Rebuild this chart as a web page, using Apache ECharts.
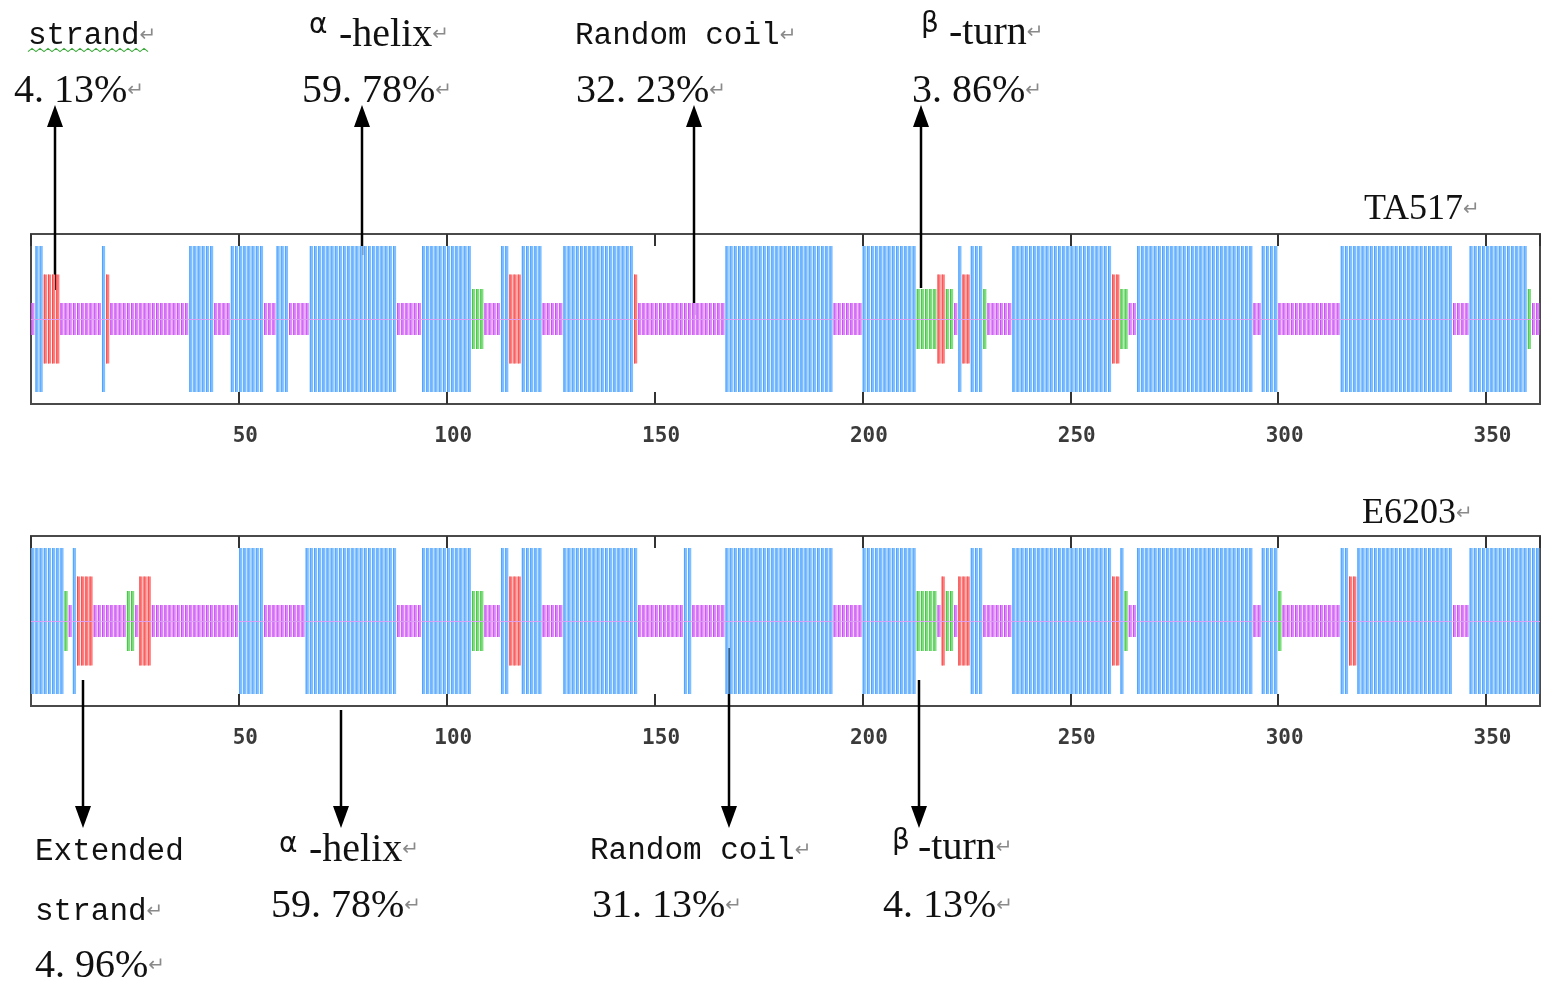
<!DOCTYPE html>
<html>
<head>
<meta charset="utf-8">
<script src="https://cdn.jsdelivr.net/npm/echarts@6/dist/echarts.min.js"></script>
<style>
  html, body { margin: 0; background: #fff; }
  #main { width: 1542px; height: 984px; }
</style>
</head>
<body>
<div id="main"></div>
<script>
// secondary structure per residue, as runs of [type, length]
// h = alpha helix, e = extended strand, t = beta turn, c = random coil
var seqLength = 363;
var ta517Runs = [
  ['c', 1], ['h', 2], ['e', 4], ['c', 10], ['h', 1], ['e', 1], ['c', 19], ['h', 6], ['c', 4], ['h', 8],
  ['c', 3], ['h', 3], ['c', 5], ['h', 21], ['c', 6], ['h', 12], ['t', 3], ['c', 4], ['h', 2], ['e', 3],
  ['h', 5], ['c', 5], ['h', 17], ['e', 1], ['c', 21], ['h', 26], ['c', 7], ['h', 13], ['t', 5], ['e', 2],
  ['t', 2], ['c', 1], ['h', 1], ['e', 2], ['h', 3], ['t', 1], ['c', 6], ['h', 24], ['e', 2], ['t', 2],
  ['c', 2], ['h', 28], ['c', 2], ['h', 4], ['c', 15], ['h', 27], ['c', 4], ['h', 14], ['t', 1], ['c', 2]
];
var e6203Runs = [
  ['h', 8], ['t', 1], ['c', 1], ['h', 1], ['e', 4], ['c', 8], ['t', 2], ['c', 1], ['e', 3], ['c', 21],
  ['h', 6], ['c', 10], ['h', 22], ['c', 6], ['h', 12], ['t', 3], ['c', 4], ['h', 2], ['e', 3], ['h', 5],
  ['c', 5], ['h', 18], ['c', 11], ['h', 2], ['c', 8], ['h', 26], ['c', 7], ['h', 13], ['t', 5], ['c', 1],
  ['e', 1], ['t', 2], ['c', 1], ['e', 3], ['h', 3], ['c', 7], ['h', 24], ['e', 2], ['h', 1], ['t', 1],
  ['c', 2], ['h', 28], ['c', 2], ['h', 4], ['t', 1], ['c', 14], ['h', 2], ['e', 2], ['h', 23], ['c', 4],
  ['h', 17]
];
var tickValues = [50, 100, 150, 200, 250, 300, 350];
var trackNames = ['TA517', 'E6203'];

// residue where each arrow sits
var ta517Arrows = [5.8, 79.7, 159.4, 214.0];
var e6203Arrows = [12.5, 74.6, 167.8, 213.5];

// percentages
var ta517Pct = ['4. 13%', '59. 78%', '32. 23%', '3. 86%'];
var e6203Pct = ['4. 96%', '59. 78%', '31. 13%', '4. 13%'];

var typeOrder = ['h', 'e', 't', 'c'];
var typeStyle = {
  h: { half: 73, light: '#80bfff', dark: '#4fa3ff' },
  e: { half: 44.5, light: '#ff7d7d', dark: '#f04a4a' },
  t: { half: 30, light: '#80dd80', dark: '#45c545' },
  c: { half: 16, light: '#de88fb', dark: '#c84cf0' }
};

function expand(runs) {
  var out = [];
  var n = 1;
  runs.forEach(function (r) {
    for (var i = 0; i < r[1]; i++) {
      out.push([n, typeOrder.indexOf(r[0])]);
      n++;
    }
  });
  return out;
}

function renderResidue(params, api) {
  var n = api.value(0);
  var st = typeStyle[typeOrder[api.value(1)]];
  var a = api.coord([n - 1, 0]);
  var b = api.coord([n, 0]);
  var w = b[0] - a[0];
  var cy = Math.round(a[1]);
  return {
    type: 'group',
    children: [
      { type: 'rect', shape: { x: a[0] + 0.3, y: cy - st.half, width: w - 1, height: st.half * 2 }, style: { fill: st.light } },
      { type: 'rect', shape: { x: a[0] + 0.3, y: cy - st.half, width: 1, height: st.half * 2 }, style: { fill: st.dark } },
      { type: 'line', shape: { x1: a[0], y1: cy + 0.5, x2: b[0], y2: cy + 0.5 }, style: { stroke: '#dc9ef4', lineWidth: 1 } }
    ]
  };
}

function makeXAxis(gridIndex, pos) {
  return {
    type: 'value', gridIndex: gridIndex, position: pos, min: 0, max: seqLength, interval: 50,
    z: 5,
    axisLine: { show: false, onZero: false },
    splitLine: { show: false },
    axisTick: { show: true, inside: true, length: 12, lineStyle: { color: '#333', width: 2 } },
    axisLabel: {
      show: pos === 'bottom', margin: 22, padding: [0, 0, 0, 13],
      fontFamily: 'DejaVu Sans Mono', fontWeight: 'bold', fontSize: 21, color: '#3a3a3a',
      showMinLabel: false, showMaxLabel: false,
      formatter: function (v) { return tickValues.indexOf(v) >= 0 ? String(v) : ''; }
    }
  };
}

var chart = echarts.init(document.getElementById('main'), null, { renderer: 'canvas' });

var option = {
  animation: false,
  backgroundColor: '#fff',
  grid: [
    { left: 31, right: 2, top: 234, height: 170, show: true, borderColor: '#4a4a4a', borderWidth: 2 },
    { left: 31, right: 2, top: 536, height: 170, show: true, borderColor: '#4a4a4a', borderWidth: 2 }
  ],
  xAxis: [makeXAxis(0, 'bottom'), makeXAxis(0, 'top'), makeXAxis(1, 'bottom'), makeXAxis(1, 'top')],
  yAxis: [
    { type: 'value', gridIndex: 0, min: -85, max: 85, show: false },
    { type: 'value', gridIndex: 1, min: -85, max: 85, show: false }
  ],
  series: [
    { name: trackNames[0], type: 'custom', xAxisIndex: 0, yAxisIndex: 0, renderItem: renderResidue, data: expand(ta517Runs) },
    { name: trackNames[1], type: 'custom', xAxisIndex: 2, yAxisIndex: 1, renderItem: renderResidue, data: expand(e6203Runs) }
  ]
};
chart.setOption(option);

// ---- annotations (labels and arrows) ----
var retRich = { fontFamily: 'DejaVu Sans', fontSize: 20, fill: '#8a8a8a' };
var fonts = {
  mono: { fontFamily: 'Liberation Mono', fontSize: 31, fill: '#111' },
  num: { fontFamily: 'Liberation Serif', fontSize: 40, fill: '#111' },
  serif: { fontFamily: 'Liberation Serif', fontSize: 40, fill: '#111' },
  greek: { fontFamily: 'DejaVu Sans', fontSize: 28, fill: '#111' },
  title: { fontFamily: 'Liberation Serif', fontSize: 36, fill: '#111' }
};

function label(x, y, kind, text, ret) {
  var rich = { m: fonts[kind], r: retRich };
  return {
    type: 'text', x: x, y: y, z: 10,
    style: { text: '{m|' + text + '}' + (ret ? '{r|↵}' : ''), rich: rich, verticalAlign: 'middle', align: 'left' }
  };
}

var labels = [
  label(28, 36, 'mono', 'strand', true),
  label(14, 91, 'num', ta517Pct[0], true),
  label(309, 26, 'greek', 'α', false),
  label(339, 35, 'serif', '-helix', true),
  label(302, 91, 'num', ta517Pct[1], true),
  label(575, 36, 'mono', 'Random coil', true),
  label(576, 91, 'num', ta517Pct[2], true),
  label(921, 25, 'greek', 'β', false),
  label(949, 33, 'serif', '-turn', true),
  label(912, 91, 'num', ta517Pct[3], true),
  label(1364, 210, 'title', trackNames[0], true),

  label(35, 852, 'mono', 'Extended', false),
  label(35, 912, 'mono', 'strand', true),
  label(35, 966, 'num', e6203Pct[0], true),
  label(279, 845, 'greek', 'α', false),
  label(309, 850, 'serif', '-helix', true),
  label(271, 906, 'num', e6203Pct[1], true),
  label(590, 851, 'mono', 'Random coil', true),
  label(592, 906, 'num', e6203Pct[2], true),
  label(892, 842, 'greek', 'β', false),
  label(918, 848, 'serif', '-turn', true),
  label(883, 906, 'num', e6203Pct[3], true),
  label(1362, 514, 'title', trackNames[1], true)
];

// spell-check squiggle under the top "strand"
var squiggle = [];
for (var i = 0; i <= 30; i++) squiggle.push([28 + i * 4, 50 + (i % 2 ? -1.6 : 1.6)]);
labels.push({ type: 'polyline', z: 10, shape: { points: squiggle }, style: { stroke: '#3da83d', lineWidth: 1.2, fill: null } });

function arrow(x, fromY, tipY) {
  var dir = tipY < fromY ? 1 : -1; // 1 = pointing up
  var baseY = tipY + dir * 22;
  return {
    type: 'group', z: 20,
    children: [
      { type: 'line', shape: { x1: x, y1: fromY, x2: x, y2: baseY }, style: { stroke: '#000', lineWidth: 2.5 } },
      { type: 'polygon', shape: { points: [[x, tipY], [x - 8, baseY], [x + 8, baseY]] }, style: { fill: '#000' } }
    ]
  };
}

var topStart = [290, 255, 315, 288];
var botStart = [680, 710, 648, 680];
var arrows = [];
ta517Arrows.forEach(function (r, i) {
  var px = Math.round(chart.convertToPixel({ xAxisIndex: 0 }, r));
  arrows.push(arrow(px, topStart[i], 105));
});
e6203Arrows.forEach(function (r, i) {
  var px = Math.round(chart.convertToPixel({ xAxisIndex: 2 }, r));
  arrows.push(arrow(px, botStart[i], 828));
});

chart.setOption({ graphic: labels.concat(arrows) });
</script>
</body>
</html>
